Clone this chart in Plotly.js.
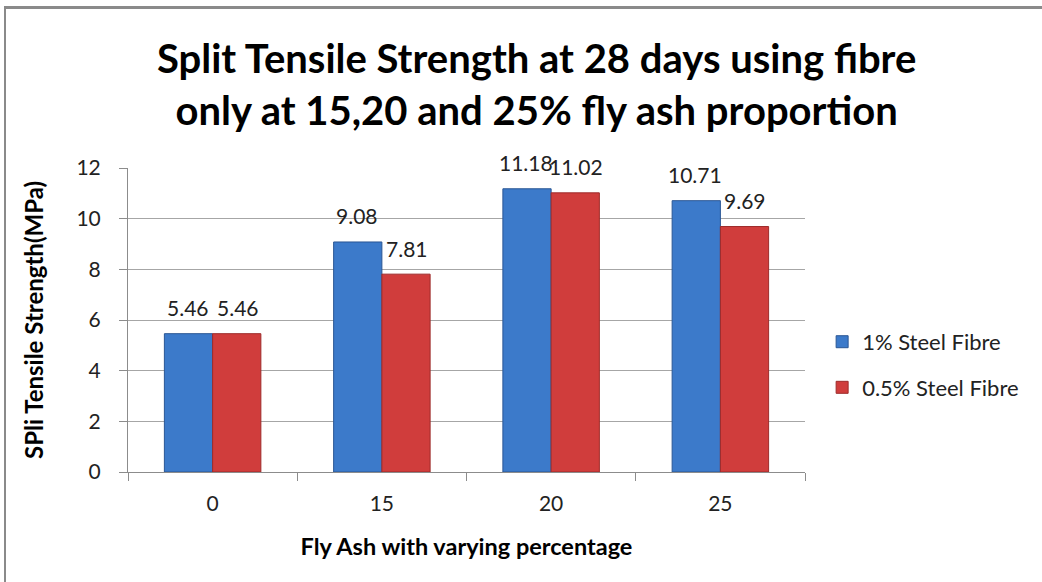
<!DOCTYPE html>
<html>
<head>
<meta charset="utf-8">
<script src="https://cdn.plot.ly/plotly-3.0.1.min.js"></script>
<style>
  html, body { margin: 0; padding: 0; background: #fff; }
  #wrap { position: relative; width: 1042px; height: 582px; overflow: hidden; }
  #frame { position: absolute; left: 4px; top: 6px; width: 1100px; height: 700px;
           border-top: 3px solid #8a8a8a; border-left: 2px solid #8a8a8a; pointer-events: none; }
  #chart { position: absolute; left: 0; top: 0; width: 1042px; height: 582px; }
</style>
</head>
<body>
<div id="wrap">
  <div id="chart"></div>
  <div id="frame"></div>
</div>
<script>
// ---- data ----
const categories = ["0", "15", "20", "25"];
const steel1 = [5.46, 9.08, 11.18, 10.71];
const steel05 = [5.46, 7.81, 11.02, 9.69];
const seriesNames = ["1% Steel Fibre", "0.5% Steel Fibre"];
const yTicks = [0, 2, 4, 6, 8, 10, 12];

const FONT = "Lato, 'Noto Sans', sans-serif";

const traces = [
  {
    type: "bar", name: seriesNames[0], x: categories, y: steel1,
    legendgroup: "a",
    marker: { color: "#3c7aca", line: { color: "#2a5694", width: 1 } },
    hoverinfo: "y"
  },
  {
    type: "bar", name: seriesNames[1], x: categories, y: steel05,
    legendgroup: "b",
    marker: { color: "#d03d3c", line: { color: "#9e2b2a", width: 1 } },
    hoverinfo: "y"
  }
];

// value labels above each bar (x given as category index)
const annotations = [];
[steel1, steel05].forEach((vals, si) => {
  vals.forEach((v, i) => {
    annotations.push({
      x: i, y: v, xref: "x", yref: "y",
      text: v.toFixed(2), showarrow: false, borderpad: 0,
      xshift: si === 0 ? -25 : 25, yshift: 26, yanchor: "middle",
      font: { family: FONT, size: 21, color: "#222" }
    });
  });
});

const layout = {
  width: 1042, height: 582,
  paper_bgcolor: "rgba(0,0,0,0)", plot_bgcolor: "#fff",
  margin: { l: 128, r: 237, t: 168, b: 110, pad: 0 },
  title: {
    text: "<b>Split Tensile Strength at 28 days using fibre<br>only at 15,20 and 25% fly ash proportion</b>",
    x: 0.515, xref: "container", xanchor: "center",
    y: 0.875, yref: "container", yanchor: "bottom",
    font: { family: FONT, size: 40, color: "#000" }
  },
  barmode: "group", bargap: 0.43, bargroupgap: 0,
  showlegend: true,
  legend: {
    xref: "container", yref: "container", x: 0.789, y: 0.373,
    xanchor: "left", yanchor: "middle",
    font: { family: FONT, size: 22, color: "#222" },
    traceorder: "grouped", tracegroupgap: 14, bgcolor: "rgba(0,0,0,0)"
  },
  xaxis: {
    type: "category", categoryarray: categories, range: [-0.5, 3.5], autorange: false,
    showline: true, linecolor: "#8c8c8c", linewidth: 1,
    ticks: "outside", tickson: "boundaries", ticklen: 8, tickcolor: "#8c8c8c",
    showgrid: false, zeroline: false, tickangle: 0,
    tickfont: { family: FONT, size: 21, color: "#222" },
    ticklabelstandoff: 13,
    title: { text: "<b>Fly Ash with varying percentage</b>", standoff: 24,
             font: { family: FONT, size: 23.5, color: "#000" } }
  },
  yaxis: {
    range: [0, 12], autorange: false, tickvals: yTicks, ticktext: yTicks.map(String),
    showline: true, linecolor: "#8c8c8c", linewidth: 1,
    ticks: "outside", ticklen: 8, tickcolor: "#8c8c8c",
    showgrid: true, gridcolor: "#a6a6a6", gridwidth: 1, zeroline: false,
    tickfont: { family: FONT, size: 21, color: "#222" },
    ticklabelstandoff: 14,
    title: { text: "<b>SPli Tensile Strength(MPa)</b>", standoff: 26,
             font: { family: FONT, size: 24, color: "#000" } }
  },
  annotations: annotations
};

Plotly.newPlot("chart", traces, layout, { displayModeBar: false, staticPlot: true });
</script>
</body>
</html>
